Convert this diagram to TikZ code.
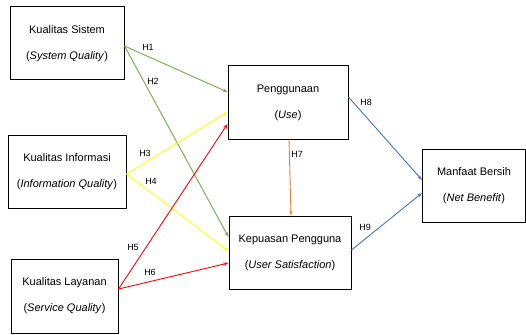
\documentclass[tikz,border=0pt]{standalone}
\usepackage{fontspec}
\setmainfont{Liberation Sans}
\usetikzlibrary{arrows.meta}

\definecolor{hgreen}{HTML}{70AD47}
\definecolor{hyellow}{HTML}{FFFF00}
\definecolor{hred}{HTML}{FF0000}
\definecolor{horange}{HTML}{ED7D31}
\definecolor{hblue}{HTML}{4472C4}

\begin{document}
\begin{tikzpicture}[x=1pt, y=-1pt,
        box/.style={draw, line width=1pt, minimum height=73pt, align=center,
            font=\fontsize{11}{26}\selectfont},
        hyp/.style={-{Stealth[length=5pt, width=3.5pt]}, line width=0.9pt},
        lbl/.style={font=\fontsize{9}{10}\selectfont}]
            %\draw[lightgray] (0, 0) grid[step=20] (526, 334);
            \useasboundingbox (0, 0) rectangle (526, 334);

            \node[box, minimum width=114pt] (sys) at (67, 43.5) {Kualitas Sistem\\(\textit{System Quality})};
            \node[box, minimum width=118pt] (info) at (67, 171.5) {Kualitas Informasi\\(\textit{Information Quality})};
            \node[box, minimum width=107pt, minimum height=74pt] (lay) at (64.5, 296) {Kualitas Layanan\\(\textit{Service Quality})};
            \node[box, minimum width=120pt] (use) at (288, 102.5) {Penggunaan\\(\textit{Use})};
            \node[box, minimum width=122pt] (kep) at (290, 252.5) {Kepuasan Pengguna\\(\textit{User Satisfaction})};
            \node[box, minimum width=103pt] (net) at (474, 185.5) {Manfaat Bersih\\(\textit{Net Benefit})};

            \draw[hyp, hgreen] ([yshift=-2.5pt]sys.east) -- ([yshift=10.5pt]use.west);
            \draw[hyp, hgreen] ([yshift=-2.5pt]sys.east) -- ([yshift=15.5pt]kep.west);
            \draw[hyp, hyellow] ([yshift=-2.5pt]info.east) -- ([yshift=-9.5pt]use.west);
            \draw[hyp, hyellow] ([yshift=-2.5pt]info.east) -- ([yshift=1.5pt]kep.west);
            \draw[hyp, hred] ([yshift=7pt]lay.east) -- ([yshift=-21.5pt]use.west);
            \draw[hyp, hred] ([yshift=7pt]lay.east) -- ([yshift=-10.5pt]kep.west);
            \draw[hyp, horange] ([xshift=1pt]use.south) -- ([xshift=1pt]kep.north);
            \draw[hyp, hblue] ([yshift=5.5pt]use.east) -- ([yshift=5.5pt]net.west);
            \draw[hyp, hblue] ([yshift=2.5pt]kep.east) -- ([yshift=-7.5pt]net.west);

            \node[lbl] (h1) at (148, 47) {H1};
            \node[lbl] (h2) at (153, 81) {H2};
            \node[lbl] (h3) at (145, 153) {H3};
            \node[lbl] (h4) at (151, 181) {H4};
            \node[lbl] (h5) at (133, 247) {H5};
            \node[lbl] (h6) at (150, 272) {H6};
            \node[lbl] (h7) at (297, 154) {H7};
            \node[lbl] (h8) at (366, 102) {H8};
            \node[lbl] (h9) at (365, 227) {H9};
        \end{tikzpicture}
\end{document}
